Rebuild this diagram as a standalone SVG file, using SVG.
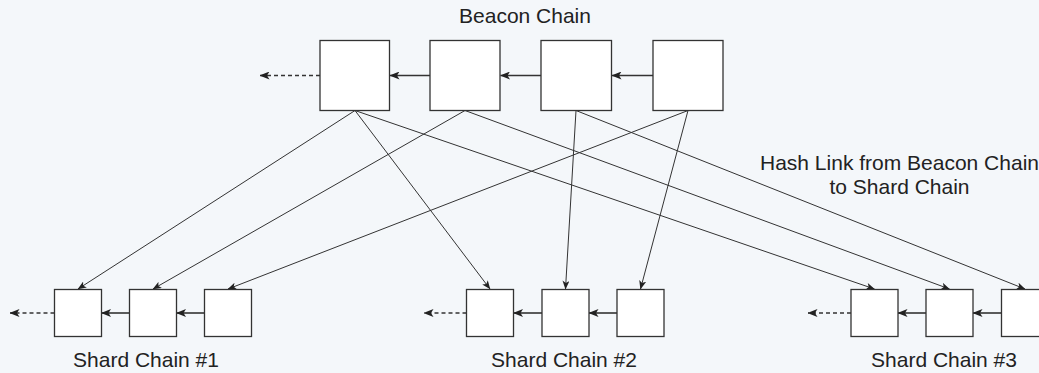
<svg xmlns="http://www.w3.org/2000/svg" width="1039" height="373" viewBox="0 0 1039 373">
<defs>
<style>
.box{fill:#ffffff;stroke:#333333;stroke-width:1.3}
.chain{stroke:#333333;stroke-width:1.6;fill:none}
.dash{stroke:#333333;stroke-width:1.4;fill:none;stroke-dasharray:4 3}
.link{stroke:#333333;stroke-width:1;fill:none}
text{font-family:"Liberation Sans",Arial,sans-serif;font-size:21px;fill:#222222;text-anchor:middle}
</style>
<marker id="arr" viewBox="0 0 10 8" refX="9.5" refY="4" markerWidth="10" markerHeight="8" orient="auto" markerUnits="userSpaceOnUse">
<path d="M0,0 L10,4 L0,8 L2.5,4 z" fill="#222222"/>
</marker>
<marker id="arrs" viewBox="0 0 10 8" refX="9.5" refY="4" markerWidth="9" markerHeight="7" orient="auto" markerUnits="userSpaceOnUse">
<path d="M0,0 L10,4 L0,8 L2.5,4 z" fill="#222222"/>
</marker>
</defs>
<rect x="0" y="0" width="1039" height="373" fill="#f4f7fa"/>

<g id="connectors">
<line class="dash" x1="320" y1="75.5" x2="260" y2="75.5" marker-end="url(#arr)"/>
<line class="chain" x1="430" y1="75.5" x2="390" y2="75.5" marker-end="url(#arr)"/>
<line class="chain" x1="541" y1="75.5" x2="500.5" y2="75.5" marker-end="url(#arr)"/>
<line class="chain" x1="653" y1="75.5" x2="612" y2="75.5" marker-end="url(#arr)"/>

<line class="dash" x1="54.5" y1="313" x2="10" y2="313" marker-end="url(#arr)"/>
<line class="chain" x1="129.5" y1="313" x2="101.5" y2="313" marker-end="url(#arr)"/>
<line class="chain" x1="204.5" y1="313" x2="176.5" y2="313" marker-end="url(#arr)"/>

<line class="dash" x1="466.5" y1="313" x2="424" y2="313" marker-end="url(#arr)"/>
<line class="chain" x1="542" y1="313" x2="513.5" y2="313" marker-end="url(#arr)"/>
<line class="chain" x1="617" y1="313" x2="589" y2="313" marker-end="url(#arr)"/>

<line class="dash" x1="851" y1="313" x2="808" y2="313" marker-end="url(#arr)"/>
<line class="chain" x1="926" y1="313" x2="898" y2="313" marker-end="url(#arr)"/>
<line class="chain" x1="1001.5" y1="313" x2="973" y2="313" marker-end="url(#arr)"/>

<line class="link" x1="355" y1="110.5" x2="78" y2="289" marker-end="url(#arrs)"/>
<line class="link" x1="355" y1="110.5" x2="490" y2="289" marker-end="url(#arrs)"/>
<line class="link" x1="355" y1="110.5" x2="874.5" y2="289" marker-end="url(#arrs)"/>
<line class="link" x1="465" y1="110.5" x2="153" y2="289" marker-end="url(#arrs)"/>
<line class="link" x1="465" y1="110.5" x2="949.5" y2="289" marker-end="url(#arrs)"/>
<line class="link" x1="576" y1="110.5" x2="565.5" y2="289" marker-end="url(#arrs)"/>
<line class="link" x1="576" y1="110.5" x2="1025" y2="289" marker-end="url(#arrs)"/>
<line class="link" x1="688" y1="110.5" x2="228" y2="289" marker-end="url(#arrs)"/>
<line class="link" x1="688" y1="110.5" x2="640.5" y2="289" marker-end="url(#arrs)"/>
</g>

<g id="beacon-chain">
<text x="525" y="23">Beacon Chain</text>
<g id="b1"><rect class="box" x="320" y="40.5" width="69.5" height="70"/></g>
<g id="b2"><rect class="box" x="430" y="40.5" width="70" height="70"/></g>
<g id="b3"><rect class="box" x="541" y="40.5" width="70.5" height="70"/></g>
<g id="b4"><rect class="box" x="653" y="40.5" width="70" height="70"/></g>
</g>

<g id="shard-chain-1">
<g id="s1a"><rect class="box" x="54.5" y="289.5" width="47" height="47"/></g>
<g id="s1b"><rect class="box" x="129.5" y="289.5" width="47" height="47"/></g>
<g id="s1c"><rect class="box" x="204.5" y="289.5" width="47" height="47"/></g>
<text x="146" y="366.5">Shard Chain #1</text>
</g>

<g id="shard-chain-2">
<g id="s2a"><rect class="box" x="466.5" y="289.5" width="47" height="47"/></g>
<g id="s2b"><rect class="box" x="542" y="289.5" width="47" height="47"/></g>
<g id="s2c"><rect class="box" x="617" y="289.5" width="47" height="47"/></g>
<text x="564" y="366.5">Shard Chain #2</text>
</g>

<g id="shard-chain-3">
<g id="s3a"><rect class="box" x="851" y="289.5" width="47" height="47"/></g>
<g id="s3b"><rect class="box" x="926" y="289.5" width="47" height="47"/></g>
<g id="s3c"><rect class="box" x="1001.5" y="289.5" width="47" height="47"/></g>
<text x="944" y="366.5">Shard Chain #3</text>
</g>

<g id="hash-link-label">
<text x="899.5" y="170">Hash Link from Beacon Chain</text>
<text x="899.5" y="194">to Shard Chain</text>
</g>
</svg>
